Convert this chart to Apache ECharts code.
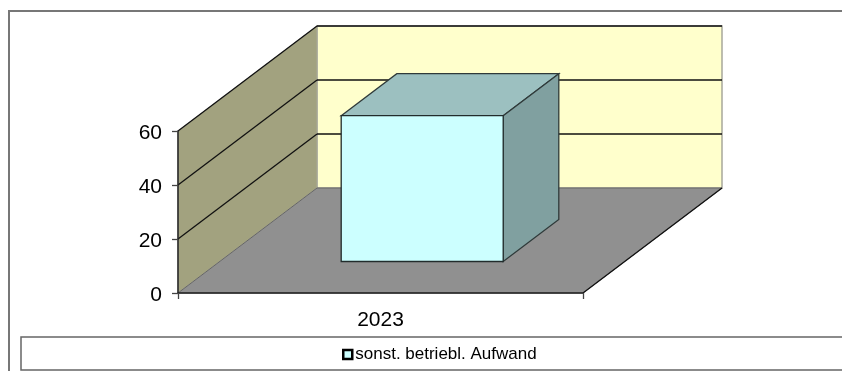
<!DOCTYPE html>
<html>
<head>
<meta charset="utf-8">
<style>
html, body { margin: 0; padding: 0; background: #fff; }
#main { width: 842px; height: 371px; }
</style>
<script src="https://cdn.jsdelivr.net/npm/echarts@6/dist/echarts.min.js"></script>
</head>
<body>
<div id="main"></div>
<script>
var categories = ['2023'];
var seriesName = 'sonst. betriebl. Aufwand';
var barValues = [54];
var yTicks = [0, 20, 40, 60];

// 3d look: how far the back wall sits from the axis plane, in px
var depthX = 139;
var depthY = -105;
// where the bar starts and ends inside the floor depth (0 front, 1 back)
var barDepthFront = 0.3;
var barDepthBack = 0.7;
var barWidthRatio = 0.4;

var myChart = echarts.init(document.getElementById('main'));

function poly(points, fill, stroke, width) {
    return {
        type: 'polygon',
        shape: { points: points },
        style: { fill: fill, stroke: stroke || 'none', lineWidth: width || 1 }
    };
}

function seg(p1, p2, color, width) {
    return {
        type: 'line',
        shape: { x1: p1[0], y1: p1[1], x2: p2[0], y2: p2[1] },
        style: { stroke: color, lineWidth: width || 1.3, fill: 'none' }
    };
}

function renderWalls(params, api) {
    var bandW = api.size([1, 0])[0];
    var cx = api.coord([0, 0])[0];
    var left = cx - bandW / 2;
    var right = cx + bandW / 2;
    var y0 = api.coord([0, 0])[1];
    var yTop = api.coord([0, yTicks[yTicks.length - 1]])[1];
    var children = [];

    // back wall, side wall, floor
    children.push(poly([[left + depthX, yTop + depthY], [right + depthX, yTop + depthY], [right + depthX, y0 + depthY], [left + depthX, y0 + depthY]], '#ffffcc', '#a8a89a', 1.5));
    children.push(poly([[left, yTop], [left + depthX, yTop + depthY], [left + depthX, y0 + depthY], [left, y0]], '#a2a27f', '#a8a89a'));
    children.push(poly([[left, y0], [left + depthX, y0 + depthY], [right + depthX, y0 + depthY], [right, y0]], '#909090', '#666'));

    for (var i = 1; i < yTicks.length; i++) {
        var y = api.coord([0, yTicks[i]])[1];
        children.push(seg([left, y], [left + depthX, y + depthY], '#111'));
        children.push(seg([left + depthX, y + depthY], [right + depthX, y + depthY], '#111'));
    }
    children.push(seg([right, y0], [right + depthX, y0 + depthY], '#111'));

    return { type: 'group', children: children };
}

function renderBar(params, api) {
    var bandW = api.size([1, 0])[0];
    var w = bandW * barWidthRatio;
    var cx = api.coord([api.value(0), 0])[0];
    var y0 = api.coord([api.value(0), 0])[1];
    var yV = api.coord([api.value(0), api.value(1)])[1];
    var fx = depthX * barDepthFront;
    var fy = depthY * barDepthFront;
    var bx = depthX * barDepthBack;
    var by = depthY * barDepthBack;
    var l = cx - w / 2;
    var r = cx + w / 2;

    return {
        type: 'group',
        children: [
            poly([[l + fx, yV + fy], [l + bx, yV + by], [r + bx, yV + by], [r + fx, yV + fy]], '#9cc0c0', '#2f3a3a', 1.3),
            poly([[r + fx, yV + fy], [r + bx, yV + by], [r + bx, y0 + by], [r + fx, y0 + fy]], '#80a0a0', '#2f3a3a', 1.3),
            poly([[l + fx, yV + fy], [r + fx, yV + fy], [r + fx, y0 + fy], [l + fx, y0 + fy]], '#ccffff', '#222c2c', 1.3)
        ]
    };
}

var option = {
    backgroundColor: '#fff',
    animation: false,
    textStyle: { fontFamily: '"Liberation Sans", Arial, sans-serif' },
    grid: { left: 178, right: 259, top: 131, bottom: 78 },
    legend: {
        data: [{ name: seriesName, icon: 'rect' }],
        left: 342,
        top: 346,
        padding: 0,
        itemWidth: 9,
        itemHeight: 9,
        itemStyle: { color: '#ccffff', borderColor: '#000', borderWidth: 2.5 },
        textStyle: { color: '#000', fontSize: 17, padding: [0, 0, 0, -2] }
    },
    xAxis: [{
        type: 'category',
        data: categories,
        z: 5,
        axisLine: { lineStyle: { color: '#222', width: 1.5 } },
        axisTick: { show: true, alignWithLabel: false, length: 6, lineStyle: { color: '#444', width: 1.3 } },
        axisLabel: { color: '#000', fontSize: 21, margin: 17 }
    }],
    yAxis: [{
        type: 'value',
        min: 0,
        max: 60,
        interval: 20,
        z: 5,
        splitLine: { show: false },
        axisLine: { show: true, lineStyle: { color: '#222', width: 1.5 } },
        axisTick: { show: true, length: 6, lineStyle: { color: '#444', width: 1.3 } },
        axisLabel: {
            color: '#000',
            margin: 16,
            formatter: '{t|{value}}',
            rich: { t: { color: '#000', fontSize: 21, padding: [4, 0, 0, 0] } }
        }
    }],
    graphic: [
        { type: 'rect', silent: true, shape: { x: 9, y: 11, width: 900, height: 500 }, style: { fill: 'none', stroke: '#777', lineWidth: 2 } },
        { type: 'rect', silent: true, shape: { x: 21, y: 337, width: 900, height: 33 }, style: { fill: 'none', stroke: '#666', lineWidth: 1.5 } }
    ],
    series: [{
        name: 'walls',
        type: 'custom',
        renderItem: renderWalls,
        silent: true,
        data: [[0]],
        z: 1
    }, {
        name: seriesName,
        type: 'custom',
        renderItem: renderBar,
        itemStyle: { color: '#ccffff' },
        encode: { x: 0, y: 1 },
        data: barValues.map(function(v, i) { return [i, v]; }),
        z: 2
    }]
};
myChart.setOption(option);
</script>
</body>
</html>
